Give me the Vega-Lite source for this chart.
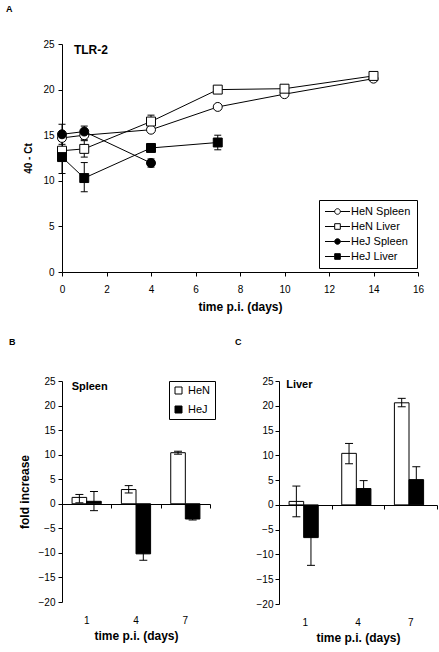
{
  "$schema": "https://vega.github.io/schema/vega-lite/v6.json",
  "background": "white",
  "padding": {"left": 6, "top": 5, "right": 2, "bottom": 2},
  "config": {
    "font": "Liberation Sans",
    "view": {"stroke": null},
    "axis": {"domainColor": "black", "tickColor": "black", "labelColor": "black", "titleColor": "black", "grid": false, "tickSize": 4, "labelFontSize": 10, "titleFontSize": 12, "titleFontWeight": "bold", "labelFont": "Liberation Sans", "titleFont": "Liberation Sans", "labelOverlap": false},
    "legend": {"labelFont": "Liberation Sans", "labelColor": "black"},
    "title": {"fontSize": 9, "fontWeight": "bold", "anchor": "start", "frame": "group", "color": "black", "font": "Liberation Sans"}
  },
  "datasets": {
    "ts": [
      {"series": "HeN Spleen", "day": 0, "value": 14.7, "lo": null, "hi": null},
      {"series": "HeN Spleen", "day": 1, "value": 15.0, "lo": 14.5, "hi": 15.5},
      {"series": "HeN Spleen", "day": 4, "value": 15.6, "lo": null, "hi": null},
      {"series": "HeN Spleen", "day": 7, "value": 18.1, "lo": null, "hi": null},
      {"series": "HeN Spleen", "day": 10, "value": 19.5, "lo": null, "hi": null},
      {"series": "HeN Spleen", "day": 14, "value": 21.2, "lo": null, "hi": null},
      {"series": "HeN Liver", "day": 0, "value": 13.3, "lo": null, "hi": null},
      {"series": "HeN Liver", "day": 1, "value": 13.5, "lo": 12.6, "hi": 14.4},
      {"series": "HeN Liver", "day": 4, "value": 16.5, "lo": 15.8, "hi": 17.2},
      {"series": "HeN Liver", "day": 7, "value": 20.0, "lo": null, "hi": null},
      {"series": "HeN Liver", "day": 10, "value": 20.1, "lo": null, "hi": null},
      {"series": "HeN Liver", "day": 14, "value": 21.5, "lo": null, "hi": null},
      {"series": "HeJ Spleen", "day": 0, "value": 15.1, "lo": 14.0, "hi": 16.2},
      {"series": "HeJ Spleen", "day": 1, "value": 15.4, "lo": 14.8, "hi": 16.0},
      {"series": "HeJ Spleen", "day": 4, "value": 11.95, "lo": 11.5, "hi": 12.4},
      {"series": "HeJ Liver", "day": 0, "value": 12.6, "lo": 10.8, "hi": 14.4},
      {"series": "HeJ Liver", "day": 1, "value": 10.3, "lo": 8.8, "hi": 12.0},
      {"series": "HeJ Liver", "day": 4, "value": 13.6, "lo": 13.2, "hi": 14.0},
      {"series": "HeJ Liver", "day": 7, "value": 14.2, "lo": 13.4, "hi": 15.0}
    ],
    "spleen": [
      {"day": 1, "strain": "HeN", "value": 1.3, "lo": 0.2, "hi": 1.9},
      {"day": 1, "strain": "HeJ", "value": 0.5, "lo": -1.4, "hi": 2.5},
      {"day": 4, "strain": "HeN", "value": 2.9, "lo": 2.2, "hi": 3.7},
      {"day": 4, "strain": "HeJ", "value": -10.2, "lo": -11.5, "hi": -8.9},
      {"day": 7, "strain": "HeN", "value": 10.4, "lo": 10.1, "hi": 10.7},
      {"day": 7, "strain": "HeJ", "value": -3.1, "lo": -3.3, "hi": -2.9}
    ],
    "liver": [
      {"day": 1, "strain": "HeN", "value": 0.7, "lo": -2.4, "hi": 3.8},
      {"day": 1, "strain": "HeJ", "value": -6.6, "lo": -12.2, "hi": -1.0},
      {"day": 4, "strain": "HeN", "value": 10.4, "lo": 8.3, "hi": 12.4},
      {"day": 4, "strain": "HeJ", "value": 3.3, "lo": 1.7, "hi": 4.9},
      {"day": 7, "strain": "HeN", "value": 20.6, "lo": 19.8, "hi": 21.5},
      {"day": 7, "strain": "HeJ", "value": 5.1, "lo": 2.5, "hi": 7.7}
    ]
  },
  "spacing": 26,
  "resolve": {"scale": {"fill": "independent", "shape": "independent", "stroke": "independent"}, "legend": {"fill": "independent", "shape": "independent", "stroke": "independent"}},
  "vconcat": [
    {
      "width": 356,
      "height": 228,
      "title": {"text": "A", "dx": -56, "offset": 25},
      "data": {"name": "ts"},
      "layer": [
        {
          "mark": {"type": "line", "color": "black", "strokeWidth": 1},
          "encoding": {
            "x": {"field": "day", "type": "quantitative", "scale": {"domain": [0, 16], "nice": false}, "axis": {"values": [0, 2, 4, 6, 8, 10, 12, 14, 16], "title": "time p.i. (days)", "labelPadding": 8, "titlePadding": 7, "labelFlush": false}},
            "y": {"field": "value", "type": "quantitative", "scale": {"domain": [0, 25], "nice": false}, "axis": {"values": [0, 5, 10, 15, 20, 25], "title": "40 - Ct", "titleFontSize": 10, "labelPadding": 4, "titlePadding": 9}},
            "detail": {"field": "series"}
          }
        },
        {
          "transform": [{"filter": "isValid(datum.lo)"}],
          "mark": {"type": "rule", "color": "black", "strokeWidth": 1},
          "encoding": {
            "x": {"field": "day", "type": "quantitative"},
            "y": {"field": "lo", "type": "quantitative"},
            "y2": {"field": "hi"}
          }
        },
        {
          "transform": [{"filter": "isValid(datum.lo)"}],
          "mark": {"type": "tick", "orient": "horizontal", "size": 7, "thickness": 1, "color": "black", "opacity": 1},
          "encoding": {
            "x": {"field": "day", "type": "quantitative"},
            "y": {"field": "lo", "type": "quantitative"}
          }
        },
        {
          "transform": [{"filter": "isValid(datum.hi)"}],
          "mark": {"type": "tick", "orient": "horizontal", "size": 7, "thickness": 1, "color": "black", "opacity": 1},
          "encoding": {
            "x": {"field": "day", "type": "quantitative"},
            "y": {"field": "hi", "type": "quantitative"}
          }
        },
        {
          "mark": {"type": "point", "filled": true, "size": 80, "stroke": "black", "strokeWidth": 1, "opacity": 1, "fillOpacity": 1},
          "encoding": {
            "x": {"field": "day", "type": "quantitative"},
            "y": {"field": "value", "type": "quantitative"},
            "shape": {
              "condition": {"test": "datum.series == 'HeN Spleen' || datum.series == 'HeJ Spleen'", "value": "circle"},
              "value": "square"
            },
            "fill": {
              "condition": {"test": "indexof(datum.series, 'HeJ') == 0", "value": "black"},
              "value": "white"
            }
          }
        },
        {
          "mark": {"type": "point", "filled": true, "size": 64, "strokeWidth": 1, "opacity": 0},
          "encoding": {
            "x": {"field": "day", "type": "quantitative"},
            "y": {"field": "value", "type": "quantitative"},
            "shape": {
              "field": "series", "type": "nominal",
              "scale": {"domain": ["HeN Spleen", "HeN Liver", "HeJ Spleen", "HeJ Liver"], "range": [
                "M-1.375,0H1.05M2.45,0H4.875M1.05,0A0.7,0.7,0,1,1,2.45,0A0.7,0.7,0,1,1,1.05,0Z",
                "M-1.375,0H1.05M2.45,0H4.875M1.05,-0.7H2.45V0.7H1.05Z",
                "M-1.375,0H1.05M2.45,0H4.875M1.05,0A0.7,0.7,0,1,1,2.45,0A0.7,0.7,0,1,1,1.05,0Z",
                "M-1.375,0H1.05M2.45,0H4.875M1.05,-0.7H2.45V0.7H1.05Z"
              ]},
              "legend": {
                "title": null, "orient": "none", "legendX": 257, "legendY": 156,
                "strokeColor": "black", "fillColor": "white", "padding": 6,
                "symbolSize": 64, "labelFontSize": 11, "rowPadding": 3,
                "symbolOffset": 0, "labelOffset": 15, "symbolOpacity": 1,
                "symbolStrokeColor": "black", "symbolStrokeWidth": 1
              }
            },
            "fill": {
              "field": "series", "type": "nominal",
              "scale": {"domain": ["HeN Spleen", "HeN Liver", "HeJ Spleen", "HeJ Liver"], "range": ["white", "white", "black", "black"]}
            },
            "stroke": {
              "field": "series", "type": "nominal",
              "scale": {"domain": ["HeN Spleen", "HeN Liver", "HeJ Spleen", "HeJ Liver"], "range": ["black", "black", "black", "black"]}
            }
          }
        },
        {
          "data": {"values": [{}]},
          "mark": {"type": "text", "fontWeight": "bold", "fontSize": 12, "align": "center", "baseline": "middle", "color": "black"},
          "encoding": {
            "x": {"datum": 1.3, "type": "quantitative"},
            "y": {"datum": 24.3, "type": "quantitative"},
            "text": {"value": "TLR-2"}
          }
        }
      ]
    },
    {
      "spacing": 19,
      "resolve": {"scale": {"fill": "independent"}, "legend": {"fill": "independent"}},
      "hconcat": [
        {
          "width": 148,
          "height": 221,
          "title": {"text": "B", "dx": -53, "offset": 29},
          "data": {"name": "spleen"},
          "resolve": {"axis": {"x": "independent"}},
          "layer": [
            {
              "mark": {"type": "bar", "stroke": "black", "strokeWidth": 1},
              "encoding": {
                "x": {"field": "day", "type": "ordinal", "scale": {"domain": [1, 4, 7], "paddingInner": 0, "paddingOuter": 0}, "axis": {"orient": "bottom", "offset": -98, "labels": false, "title": null, "tickBand": "extent", "tickSize": 4}},
                "xOffset": {"field": "strain", "type": "nominal", "scale": {"domain": ["HeN", "HeJ"], "paddingInner": 0, "paddingOuter": 0.69}},
                "y": {"field": "value", "type": "quantitative", "scale": {"domain": [-20, 25], "nice": false}, "axis": {"values": [-20, -15, -10, -5, 0, 5, 10, 15, 20, 25], "title": "fold increase", "labelPadding": 3, "titlePadding": 7}},
                "fill": {
                  "field": "strain", "type": "nominal",
                  "scale": {"domain": ["HeN", "HeJ"], "range": ["white", "black"]},
                  "legend": {"title": null, "orient": "none", "legendX": 107, "legendY": 0, "strokeColor": "black", "fillColor": "white", "padding": 4, "symbolType": "square", "symbolSize": 49, "symbolStrokeColor": "black", "symbolStrokeWidth": 1, "labelFontSize": 11, "rowPadding": 7, "labelOffset": 4}
                }
              }
            },
            {
              "mark": {"type": "rule", "color": "black", "strokeWidth": 1},
              "encoding": {
                "x": {"field": "day", "type": "ordinal", "axis": {"orient": "bottom", "domain": false, "ticks": false, "tickSize": 0, "labelAngle": 0, "labelPadding": 13, "title": "time p.i. (days)", "titlePadding": 5}},
                "xOffset": {"field": "strain", "type": "nominal"},
                "y": {"field": "lo", "type": "quantitative", "axis": {"values": [-20, -15, -10, -5, 0, 5, 10, 15, 20, 25], "title": "fold increase", "labelPadding": 3, "titlePadding": 7}},
                "y2": {"field": "hi"}
              }
            },
            {
              "mark": {"type": "tick", "orient": "horizontal", "size": 8, "thickness": 1, "color": "black", "opacity": 1},
              "encoding": {
                "x": {"field": "day", "type": "ordinal", "axis": null},
                "xOffset": {"field": "strain", "type": "nominal"},
                "y": {"field": "lo", "type": "quantitative", "axis": {"values": [-20, -15, -10, -5, 0, 5, 10, 15, 20, 25], "title": "fold increase", "labelPadding": 3, "titlePadding": 7}}
              }
            },
            {
              "mark": {"type": "tick", "orient": "horizontal", "size": 8, "thickness": 1, "color": "black", "opacity": 1},
              "encoding": {
                "x": {"field": "day", "type": "ordinal", "axis": null},
                "xOffset": {"field": "strain", "type": "nominal"},
                "y": {"field": "hi", "type": "quantitative", "axis": {"values": [-20, -15, -10, -5, 0, 5, 10, 15, 20, 25], "title": "fold increase", "labelPadding": 3, "titlePadding": 7}}
              }
            },
            {
              "data": {"values": [{}]},
              "mark": {"type": "text", "fontWeight": "bold", "fontSize": 11, "align": "center", "baseline": "middle", "dx": 3, "color": "black"},
              "encoding": {
                "x": {"datum": 1, "type": "ordinal", "axis": null},
                "y": {"datum": 23.8, "type": "quantitative", "axis": {"values": [-20, -15, -10, -5, 0, 5, 10, 15, 20, 25], "title": "fold increase", "labelPadding": 3, "titlePadding": 7}},
                "text": {"value": "Spleen"}
              }
            }
          ]
        },
        {
          "width": 158,
          "height": 223,
          "title": {"text": "C", "dx": -44, "offset": 29},
          "data": {"name": "liver"},
          "resolve": {"axis": {"x": "independent"}},
          "layer": [
            {
              "mark": {"type": "bar", "stroke": "black", "strokeWidth": 1},
              "encoding": {
                "x": {"field": "day", "type": "ordinal", "scale": {"domain": [1, 4, 7], "paddingInner": 0, "paddingOuter": 0}, "axis": {"orient": "bottom", "offset": -99, "labels": false, "title": null, "tickBand": "extent", "tickSize": 4}},
                "xOffset": {"field": "strain", "type": "nominal", "scale": {"domain": ["HeN", "HeJ"], "paddingInner": 0, "paddingOuter": 0.7}},
                "y": {"field": "value", "type": "quantitative", "scale": {"domain": [-20, 25], "nice": false}, "axis": {"values": [-20, -15, -10, -5, 0, 5, 10, 15, 20, 25], "title": null, "labelPadding": 2}},
                "fill": {
                  "field": "strain", "type": "nominal",
                  "scale": {"domain": ["HeN", "HeJ"], "range": ["white", "black"]},
                  "legend": null
                }
              }
            },
            {
              "mark": {"type": "rule", "color": "black", "strokeWidth": 1},
              "encoding": {
                "x": {"field": "day", "type": "ordinal", "axis": {"orient": "bottom", "domain": false, "ticks": false, "tickSize": 0, "labelAngle": 0, "labelPadding": 13, "title": "time p.i. (days)", "titlePadding": 5}},
                "xOffset": {"field": "strain", "type": "nominal"},
                "y": {"field": "lo", "type": "quantitative", "axis": {"values": [-20, -15, -10, -5, 0, 5, 10, 15, 20, 25], "title": null, "labelPadding": 2}},
                "y2": {"field": "hi"}
              }
            },
            {
              "mark": {"type": "tick", "orient": "horizontal", "size": 8, "thickness": 1, "color": "black", "opacity": 1},
              "encoding": {
                "x": {"field": "day", "type": "ordinal", "axis": null},
                "xOffset": {"field": "strain", "type": "nominal"},
                "y": {"field": "lo", "type": "quantitative", "axis": {"values": [-20, -15, -10, -5, 0, 5, 10, 15, 20, 25], "title": null, "labelPadding": 2}}
              }
            },
            {
              "mark": {"type": "tick", "orient": "horizontal", "size": 8, "thickness": 1, "color": "black", "opacity": 1},
              "encoding": {
                "x": {"field": "day", "type": "ordinal", "axis": null},
                "xOffset": {"field": "strain", "type": "nominal"},
                "y": {"field": "hi", "type": "quantitative", "axis": {"values": [-20, -15, -10, -5, 0, 5, 10, 15, 20, 25], "title": null, "labelPadding": 2}}
              }
            },
            {
              "data": {"values": [{}]},
              "mark": {"type": "text", "fontWeight": "bold", "fontSize": 11, "align": "center", "baseline": "middle", "dx": -6, "color": "black"},
              "encoding": {
                "x": {"datum": 1, "type": "ordinal", "axis": null},
                "y": {"datum": 24.1, "type": "quantitative", "axis": {"values": [-20, -15, -10, -5, 0, 5, 10, 15, 20, 25], "title": null, "labelPadding": 2}},
                "text": {"value": "Liver"}
              }
            }
          ]
        }
      ]
    }
  ]
}
